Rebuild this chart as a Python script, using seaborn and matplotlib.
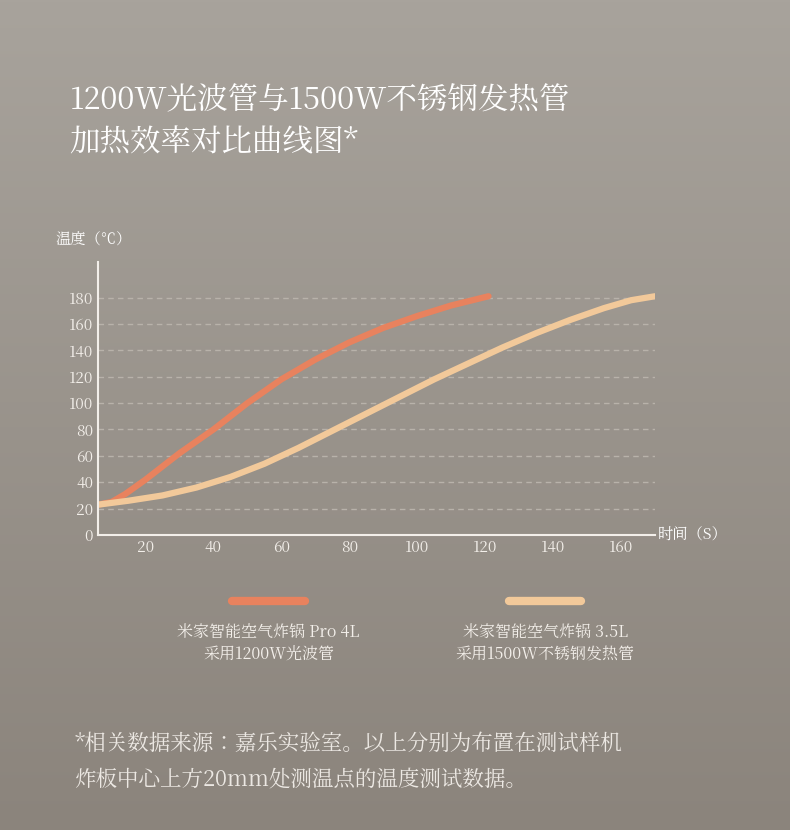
import numpy as np
import pandas as pd
import matplotlib
matplotlib.use("Agg")
import matplotlib.pyplot as plt
from matplotlib import font_manager as fm
from matplotlib.colors import LinearSegmentedColormap
import seaborn as sns

cjk = [f.name for f in fm.fontManager.ttflist if "CJK" in f.name]
pref = [n for n in cjk if n.endswith("SC")] or cjk
plt.rcParams["font.family"] = (pref[:1] if pref else []) + ["DejaVu Sans"]
plt.rcParams["axes.unicode_minus"] = False

t_pro = [6, 10, 14, 20, 30, 40, 50, 60, 70, 80, 90, 100, 110, 121]
temp_pro = [23, 25, 31, 42, 62, 80, 100, 118, 133, 146, 157, 166, 174, 181]
t_35 = [6, 15, 25, 35, 45, 55, 65, 75, 85, 95, 105, 115, 125, 135, 145, 155, 163, 170]
temp_35 = [23, 26, 30, 36, 44, 54, 66, 79, 92, 105, 118, 130, 142, 153, 163, 172, 178, 181]
x_ticks = [20, 40, 60, 80, 100, 120, 140, 160]
y_ticks = [0, 20, 40, 60, 80, 100, 120, 140, 160, 180]
names = ["米家智能空气炸锅 Pro 4L\n采用1200W光波管", "米家智能空气炸锅 3.5L\n采用1500W不锈钢发热管"]
colors = ["#e8825e", "#f2c99a"]

df = pd.concat([
    pd.DataFrame({"t": t_pro, "T": temp_pro, "s": names[0]}),
    pd.DataFrame({"t": t_35, "T": temp_35, "s": names[1]}),
])

fig = plt.figure(figsize=(7.9, 8.3), dpi=100)
bg = fig.add_axes([0, 0, 1, 1])
grad = np.linspace(0, 1, 256)[:, None]
cm = LinearSegmentedColormap.from_list("bg", ["#a8a39c", "#8b847c"])
bg.imshow(grad, aspect="auto", cmap=cm, extent=[0, 1, 0, 1], origin="upper")
bg.axis("off")

ax = fig.add_axes([0.124, 0.3554, 0.705, 0.329])
ax.patch.set_alpha(0)
for y in y_ticks[1:]:
    ax.axhline(y, color="#b8b2aa", lw=1, ls=(0, (4, 3)), zorder=0)
sns.lineplot(data=df, x="t", y="T", hue="s", palette=colors, lw=4.5,
             legend=False, ax=ax, sort=True, solid_capstyle="round")
ax.set_xlim(6, 170)
ax.set_ylim(0, 207)
ax.set_xticks(x_ticks)
ax.set_yticks(y_ticks)
ax.tick_params(length=0, colors="#f3efea", labelsize=11)
ax.set_xlabel("")
ax.set_ylabel("")
for s in ["top", "right"]:
    ax.spines[s].set_visible(False)
for s in ["left", "bottom"]:
    ax.spines[s].set_color("#f3efea")
    ax.spines[s].set_linewidth(1.5)

fig.text(0.070, 0.710, "温度（℃）", color="white", fontsize=11, va="center")
fig.text(0.832, 0.355, "时间（S）", color="white", fontsize=11, va="center")

fig.text(0.088, 0.878, "1200W光波管与1500W不锈钢发热管", color="white", fontsize=22, va="center")
fig.text(0.088, 0.827, "加热效率对比曲线图*", color="white", fontsize=22, va="center")

for i, (cx, c) in enumerate([(0.340, colors[0]), (0.690, colors[1])]):
    fig.add_artist(plt.Line2D([cx - 0.046, cx + 0.046], [0.276, 0.276], color=c, lw=6,
                              solid_capstyle="round"))
    fig.text(cx, 0.225, names[i], color="#f3efea", fontsize=11.5, ha="center",
             va="center", linespacing=1.4)

fig.text(0.094, 0.082, "*相关数据来源：嘉乐实验室。以上分别为布置在测试样机\n炸板中心上方20mm处测温点的温度测试数据。",
         color="#ece8e3", fontsize=15.5, va="center", linespacing=1.55)

fig.savefig("out.png", dpi=100)
